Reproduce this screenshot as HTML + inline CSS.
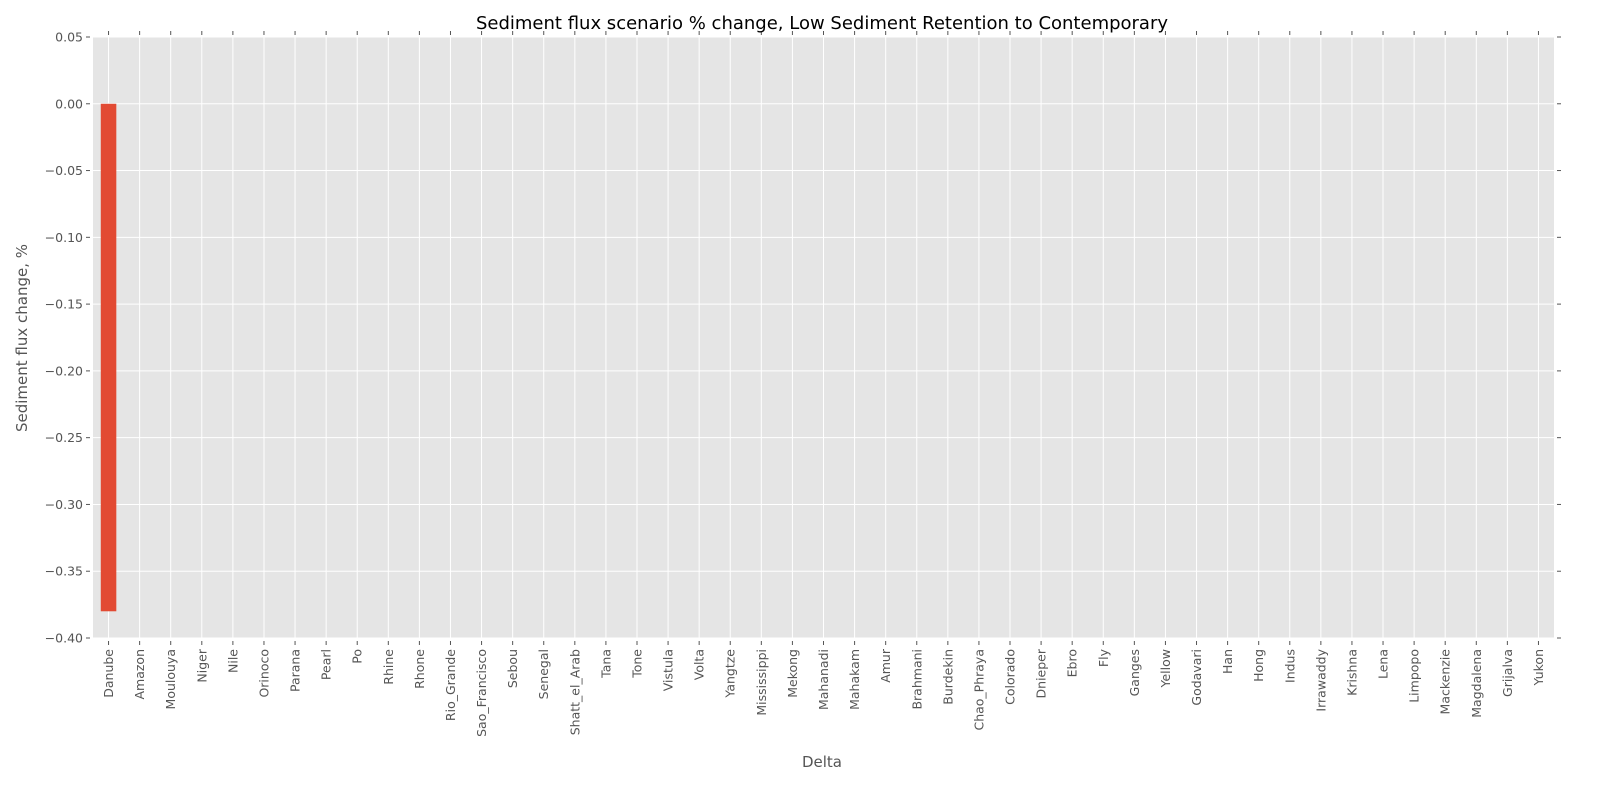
<!DOCTYPE html>
<html><head><meta charset="utf-8"><style>
body{margin:0;background:#fff;}
svg text{font-family:"DejaVu Sans","Liberation Sans",sans-serif;}
</style></head><body>
<svg id="chart" width="1600" height="800" xmlns="http://www.w3.org/2000/svg">
<rect x="93" y="37" width="1461" height="601" fill="#e5e5e5"/>
<g id="grid"></g><g id="bars"></g><g id="ticks"></g>
<text x="822" y="29" font-size="18" text-anchor="middle" fill="#000">Sediment flux scenario % change, Low Sediment Retention to Contemporary</text>
<text x="822" y="767" font-size="15" text-anchor="middle" fill="#555">Delta</text>
<text transform="translate(27,338) rotate(-90)" font-size="15" text-anchor="middle" fill="#555">Sediment flux change, %</text>
</svg>
<script>
const categories=["Danube","Amazon","Moulouya","Niger","Nile","Orinoco","Parana","Pearl","Po","Rhine","Rhone","Rio_Grande","Sao_Francisco","Sebou","Senegal","Shatt_el_Arab","Tana","Tone","Vistula","Volta","Yangtze","Mississippi","Mekong","Mahanadi","Mahakam","Amur","Brahmani","Burdekin","Chao_Phraya","Colorado","Dnieper","Ebro","Fly","Ganges","Yellow","Godavari","Han","Hong","Indus","Irrawaddy","Krishna","Lena","Limpopo","Mackenzie","Magdalena","Grijalva","Yukon"];
const values=[-0.38,0,0,0,0,0,0,0,0,0,0,0,0,0,0,0,0,0,0,0,0,0,0,0,0,0,0,0,0,0,0,0,0,0,0,0,0,0,0,0,0,0,0,0,0,0,0];
const yTicks=[0.05,0,-0.05,-0.10,-0.15,-0.20,-0.25,-0.30,-0.35,-0.40];
const yTickLabels=["0.05","0.00","\u22120.05","\u22120.10","\u22120.15","\u22120.20","\u22120.25","\u22120.30","\u22120.35","\u22120.40"];
const L=93,R=1554,T=37,B=638,yMax=0.05,yMin=-0.40;
const NS="http://www.w3.org/2000/svg";
const y=v=>T+(yMax-v)/(yMax-yMin)*(B-T);
const step=(R-L)/categories.length;
const x=i=>L+(i+0.5)*step;
function mk(tag,attrs,parent,text){const e=document.createElementNS(NS,tag);for(const k in attrs)e.setAttribute(k,attrs[k]);if(text!==undefined)e.textContent=text;document.getElementById(parent).appendChild(e);return e;}
yTicks.forEach((v,i)=>{
  const g=mk("line",{x1:L,x2:R,y1:y(v),y2:y(v),stroke:"#fff","stroke-width":1},"grid");
  
  
  mk("line",{x1:L-7,x2:L-3,y1:y(v),y2:y(v),stroke:"#555"},"ticks");
  mk("line",{x1:R+3,x2:R+7,y1:y(v),y2:y(v),stroke:"#555"},"ticks");
  const t=mk("text",{x:L-10,y:y(v)+4.5,"font-size":12.5,"text-anchor":"end",fill:"#555"},"ticks",yTickLabels[i]);
  
  
});
categories.forEach((c,i)=>{
  const cx=x(i);
  const g=mk("line",{x1:cx,x2:cx,y1:T,y2:B,stroke:"#fff","stroke-width":1},"grid");
  
  
  mk("line",{x1:cx,x2:cx,y1:T-6,y2:T-2,stroke:"#555"},"ticks");
  mk("line",{x1:cx,x2:cx,y1:B+3,y2:B+7,stroke:"#555"},"ticks");
  const t=mk("text",{transform:`translate(${cx+4.5},${B+11}) rotate(-90)`,"font-size":12.5,"text-anchor":"end",fill:"#555"},"ticks",c);
  
  
  const v=values[i];
  if(v!==0){
    const b=mk("rect",{x:cx-step/4,width:step/2,y:Math.min(y(0),y(v)),height:Math.abs(y(v)-y(0)),fill:"#e24a33"},"bars");
    
    
  }
});
</script>
</body></html>
